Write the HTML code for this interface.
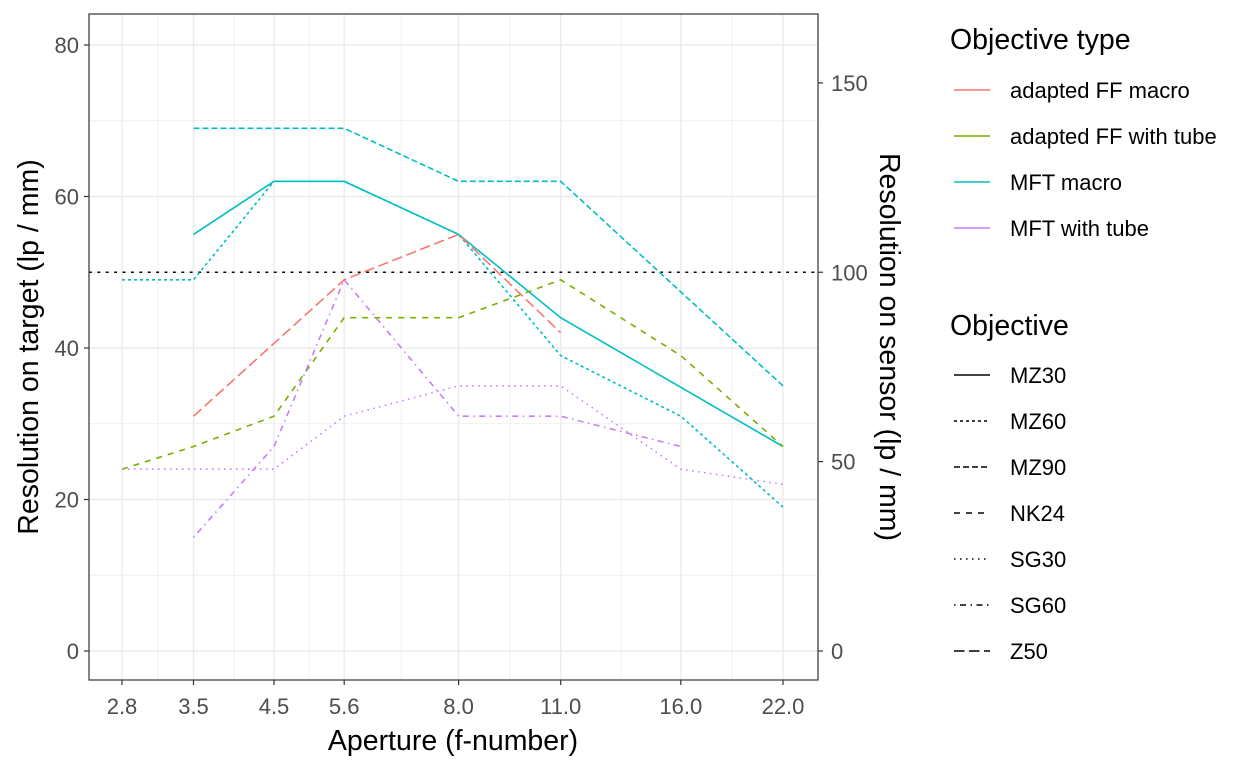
<!DOCTYPE html>
<html><head><meta charset="utf-8"><style>body{margin:0;background:#fff}svg{display:block;font-family:"Liberation Sans",sans-serif}</style></head><body>
<svg width="1248" height="768" viewBox="0 0 1248 768">
<rect x="89" y="14" width="729" height="666" fill="#fff"/>
<g stroke="#ebebeb" stroke-width="0.7">
<line x1="89" x2="818" y1="575.25" y2="575.25"/><line x1="89" x2="818" y1="423.75" y2="423.75"/><line x1="89" x2="818" y1="272.25" y2="272.25"/><line x1="89" x2="818" y1="120.75" y2="120.75"/>
<line y1="14" y2="680" x1="158" x2="158"/><line y1="14" y2="680" x1="234" x2="234"/><line y1="14" y2="680" x1="309" x2="309"/><line y1="14" y2="680" x1="401" x2="401"/><line y1="14" y2="680" x1="510" x2="510"/><line y1="14" y2="680" x1="621" x2="621"/><line y1="14" y2="680" x1="732" x2="732"/>
</g>
<g stroke="#ebebeb" stroke-width="1.4">
<line x1="89" x2="818" y1="651" y2="651"/><line x1="89" x2="818" y1="499.5" y2="499.5"/><line x1="89" x2="818" y1="348" y2="348"/><line x1="89" x2="818" y1="196.5" y2="196.5"/><line x1="89" x2="818" y1="45" y2="45"/>
<line y1="14" y2="680" x1="122" x2="122"/><line y1="14" y2="680" x1="193.5" x2="193.5"/><line y1="14" y2="680" x1="274" x2="274"/><line y1="14" y2="680" x1="344.2" x2="344.2"/><line y1="14" y2="680" x1="458.6" x2="458.6"/><line y1="14" y2="680" x1="560.7" x2="560.7"/><line y1="14" y2="680" x1="680.8" x2="680.8"/><line y1="14" y2="680" x1="783" x2="783"/>
</g>
<line x1="89" x2="818" y1="272.25" y2="272.25" stroke="#000" stroke-width="1.6" stroke-dasharray="2.8 5.6"/>
<g fill="none" stroke-width="1.6">
<polyline stroke="#00BFC4" points="193.5,234.4 274,181.35 344.2,181.35 458.6,234.4 560.7,317.7 783,446.5"/>
<polyline stroke="#00BFC4" stroke-dasharray="3 3" points="122,279.8 193.5,279.8 274,181.35 344.2,181.35 458.6,234.4 560.7,355.6 680.8,416.2 783,507.1"/>
<polyline stroke="#00BFC4" stroke-dasharray="6 3" points="193.5,128.3 274,128.3 344.2,128.3 458.6,181.35 560.7,181.35 783,385.9"/>
<polyline stroke="#F8766D" stroke-dasharray="10.5 4.5" points="193.5,416.2 344.2,279.8 458.6,234.4 560.7,332.85"/>
<polyline stroke="#7CAE00" stroke-dasharray="6 6" points="122,469.2 193.5,446.5 274,416.2 344.2,317.7 458.6,317.7 560.7,279.8 680.8,355.6 783,446.5"/>
<polyline stroke="#C77CFF" stroke-dasharray="1.5 4.5" points="122,469.2 274,469.2 344.2,416.2 458.6,385.9 560.7,385.9 680.8,469.2 783,484.35"/>
<polyline stroke="#C77CFF" stroke-dasharray="1.5 4.5 6 4.5" points="193.5,537.4 274,446.5 344.2,279.8 458.6,416.2 560.7,416.2 680.8,446.5"/>
</g>
<rect x="89" y="14" width="729" height="666" fill="none" stroke="#333" stroke-width="1.2"/>
<g stroke="#333" stroke-width="1.2">
<line x1="84" x2="89" y1="651" y2="651"/><line x1="84" x2="89" y1="499.5" y2="499.5"/><line x1="84" x2="89" y1="348" y2="348"/><line x1="84" x2="89" y1="196.5" y2="196.5"/><line x1="84" x2="89" y1="45" y2="45"/>
<line x1="818" x2="823" y1="651" y2="651"/><line x1="818" x2="823" y1="461.6" y2="461.6"/><line x1="818" x2="823" y1="272.25" y2="272.25"/><line x1="818" x2="823" y1="82.9" y2="82.9"/>
<line y1="680" y2="685" x1="122" x2="122"/><line y1="680" y2="685" x1="193.5" x2="193.5"/><line y1="680" y2="685" x1="274" x2="274"/><line y1="680" y2="685" x1="344.2" x2="344.2"/><line y1="680" y2="685" x1="458.6" x2="458.6"/><line y1="680" y2="685" x1="560.7" x2="560.7"/><line y1="680" y2="685" x1="680.8" x2="680.8"/><line y1="680" y2="685" x1="783" x2="783"/>
</g>
<g fill="#4d4d4d" font-size="22">
<g text-anchor="end"><text x="79" y="659">0</text><text x="79" y="507.5">20</text><text x="79" y="356">40</text><text x="79" y="204.5">60</text><text x="79" y="53">80</text></g>
<g text-anchor="start"><text x="831" y="659">0</text><text x="831" y="469.6">50</text><text x="831" y="280.25">100</text><text x="831" y="90.9">150</text></g>
<g text-anchor="middle"><text x="122" y="714">2.8</text><text x="193.5" y="714">3.5</text><text x="274" y="714">4.5</text><text x="344.2" y="714">5.6</text><text x="458.6" y="714">8.0</text><text x="560.7" y="714">11.0</text><text x="680.8" y="714">16.0</text><text x="783" y="714">22.0</text></g>
</g>
<g fill="#000" font-size="28.5">
<text x="453" y="750" text-anchor="middle">Aperture (f-number)</text>
<text transform="translate(38,347) rotate(-90)" text-anchor="middle">Resolution on target (lp / mm)</text>
<text transform="translate(880,347) rotate(90)" text-anchor="middle">Resolution on sensor (lp / mm)</text>
<text x="950" y="49">Objective type</text>
<text x="950" y="335">Objective</text>
</g>
<g font-size="22" fill="#000">
<text x="1010" y="98">adapted FF macro</text><text x="1010" y="144">adapted FF with tube</text><text x="1010" y="190">MFT macro</text><text x="1010" y="236">MFT with tube</text>
<text x="1010" y="383">MZ30</text><text x="1010" y="429">MZ60</text><text x="1010" y="475">MZ90</text><text x="1010" y="521">NK24</text><text x="1010" y="567">SG30</text><text x="1010" y="613">SG60</text><text x="1010" y="659">Z50</text>
</g>
<g stroke-width="1.6" fill="none">
<line x1="954" x2="990" y1="90" y2="90" stroke="#F8766D"/><line x1="954" x2="990" y1="136" y2="136" stroke="#7CAE00"/><line x1="954" x2="990" y1="182" y2="182" stroke="#00BFC4"/><line x1="954" x2="990" y1="228" y2="228" stroke="#C77CFF"/>
<g stroke="#000">
<line x1="954" x2="990" y1="375" y2="375"/>
<line x1="954" x2="990" y1="421" y2="421" stroke-dasharray="3 3"/>
<line x1="954" x2="990" y1="467" y2="467" stroke-dasharray="6 3"/>
<line x1="954" x2="990" y1="513" y2="513" stroke-dasharray="6 6"/>
<line x1="954" x2="990" y1="559" y2="559" stroke-dasharray="1.5 4.5"/>
<line x1="954" x2="990" y1="605" y2="605" stroke-dasharray="1.5 4.5 6 4.5"/>
<line x1="954" x2="990" y1="651" y2="651" stroke-dasharray="10.5 4.5"/>
</g></g>
</svg>
</body></html>
